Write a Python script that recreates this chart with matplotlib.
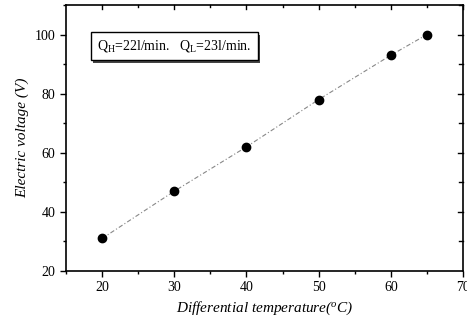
import numpy as np
import matplotlib.pyplot as plt
from matplotlib.patches import Rectangle
from matplotlib.ticker import MultipleLocator

plt.rcParams.update({
    'font.family': 'Liberation Serif',
    'mathtext.fontset': 'custom',
    'mathtext.rm': 'Liberation Serif',
    'mathtext.it': 'Liberation Serif:italic',
})

dtemp = [20, 30, 40, 50, 60, 65]
voltage = [31, 47, 62, 78, 93, 100]

fig = plt.figure(figsize=(4.67, 3.26), dpi=100)
ax = fig.add_axes([66/467, 55/326, 397/467, 266/326])

ax.plot(dtemp, voltage, color='#888888', lw=0.8, ls=(0, (4, 2, 1, 2)))
ax.plot(dtemp, voltage, 'o', color='black', ms=6, ls='none')

ax.set_xlim(15, 70)
ax.set_ylim(20, 110)
ax.set_xticks([20, 30, 40, 50, 60, 70])
ax.set_yticks([20, 40, 60, 80, 100])
ax.xaxis.set_minor_locator(MultipleLocator(5))
ax.yaxis.set_minor_locator(MultipleLocator(10))
ax.tick_params(which='both', direction='out', top=False, right=False, labelsize=10)
ax.tick_params(which='major', length=4, width=1)
ax.tick_params(which='minor', length=2.5, width=1)

# inward ticks on top and right
for t in np.arange(20, 71, 5):
    ax.plot([t, t], [110, 110 - (1.2 if t % 10 == 0 else 0.8)], color='black', lw=1, clip_on=False)
for t in np.arange(30, 111, 10):
    ax.plot([70, 70 - (0.75 if t % 20 == 0 else 0.5)], [t, t], color='black', lw=1, clip_on=False)

for s in ax.spines.values():
    s.set_linewidth(1.2)

ax.set_xlabel('Differential temperature($^o$C)', style='italic', fontsize=11)
ax.set_ylabel('Electric voltage (V)', style='italic', fontsize=11)

# legend-like box with shadow
shadow = Rectangle((93/467, 1 - 63/326), 167/467, 28/326, transform=fig.transFigure,
                   facecolor='#444444', edgecolor='none')
box = Rectangle((91/467, 1 - 60/326), 167/467, 28/326, transform=fig.transFigure,
                facecolor='white', edgecolor='black', lw=1)
fig.patches.extend([shadow, box])
fig.text(174/467, 1 - 46/326, r'Q$_{\rm H}$=22l/min.   Q$_{\rm L}$=23l/min.',
         ha='center', va='center', fontsize=10)

fig.savefig('out.png')
